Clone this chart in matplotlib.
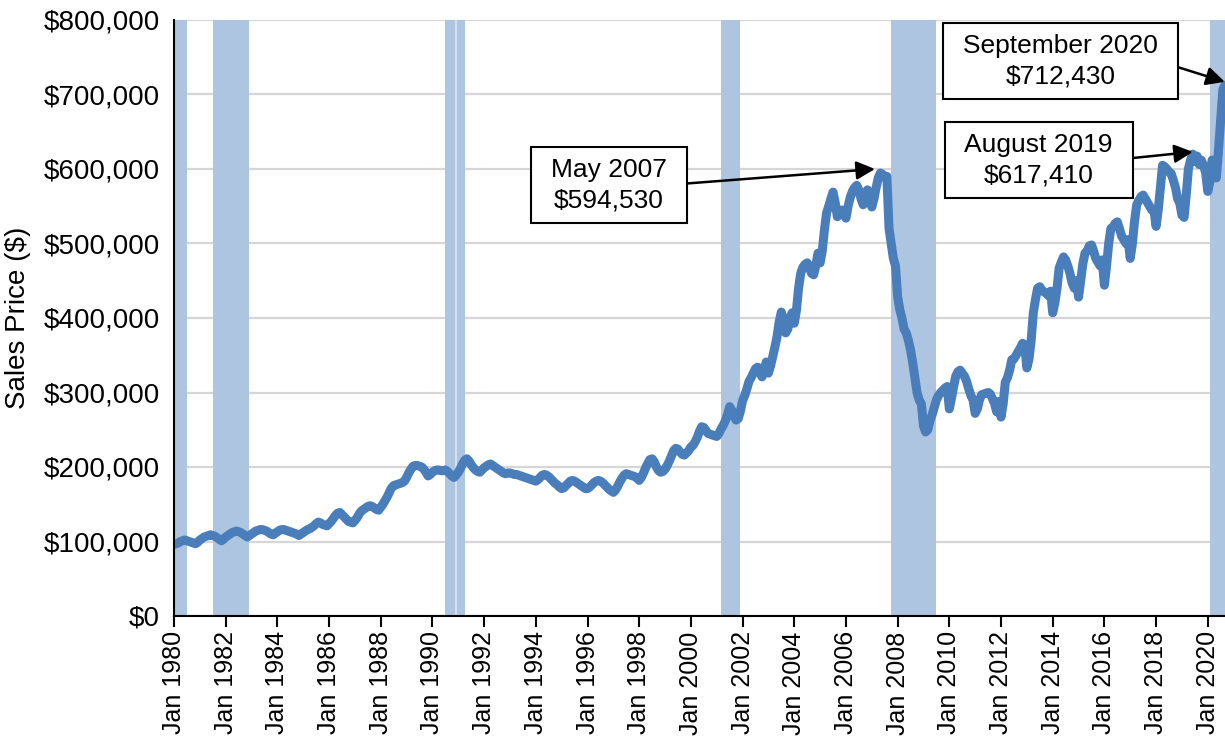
import matplotlib.pyplot as plt
from matplotlib.ticker import FuncFormatter

# California median home sales price, monthly, in $ thousands
price_k = {
    1980: [96, 97, 98, 100, 101, 102, 101, 100, 99, 98, 97, 99],
    1981: [102, 104, 106, 107, 108, 109, 108, 107, 105, 103, 101, 103],
    1982: [106, 108, 110, 112, 113, 114, 113, 112, 110, 108, 106, 108],
    1983: [110, 112, 114, 115, 116, 116, 115, 114, 112, 110, 109, 111],
    1984: [113, 115, 116, 116, 115, 114, 113, 112, 111, 110, 108, 110],
    1985: [112, 114, 116, 117, 119, 121, 124, 126, 125, 123, 122, 121],
    1986: [124, 127, 131, 135, 138, 139, 136, 133, 130, 127, 126, 125],
    1987: [128, 132, 137, 141, 143, 145, 147, 148, 147, 145, 143, 142],
    1988: [146, 150, 155, 160, 166, 172, 175, 176, 177, 178, 179, 181],
    1989: [186, 192, 197, 201, 202, 202, 201, 200, 197, 193, 188, 190],
    1990: [193, 195, 196, 196, 195, 195, 196, 194, 191, 188, 186, 189],
    1991: [193, 198, 204, 209, 211, 208, 203, 199, 196, 194, 193, 196],
    1992: [199, 201, 203, 204, 202, 200, 198, 196, 194, 192, 191, 192],
    1993: [192, 191, 190, 190, 189, 188, 187, 186, 185, 184, 183, 182],
    1994: [181, 183, 186, 189, 190, 189, 187, 184, 181, 178, 176, 173],
    1995: [171, 172, 175, 178, 181, 182, 181, 179, 177, 175, 173, 171],
    1996: [171, 173, 176, 179, 181, 182, 181, 179, 176, 173, 170, 168],
    1997: [166, 169, 174, 180, 185, 189, 191, 190, 189, 188, 187, 185],
    1998: [182, 186, 192, 199, 205, 210, 211, 207, 200, 195, 193, 194],
    1999: [197, 202, 208, 215, 222, 225, 224, 220, 217, 216, 219, 222],
    2000: [227, 229, 234, 240, 248, 254, 253, 249, 245, 244, 243, 242],
    2001: [241, 245, 251, 256, 262, 270, 281, 276, 268, 263, 265, 275],
    2002: [289, 296, 305, 315, 320, 326, 332, 334, 328, 321, 330, 341],
    2003: [326, 336, 348, 361, 375, 395, 408, 395, 380, 385, 400, 407],
    2004: [393, 410, 440, 460, 468, 472, 474, 468, 460, 458, 470, 487],
    2005: [474, 490, 518, 541, 550, 560, 569, 555, 536, 540, 545, 540],
    2006: [534, 550, 562, 570, 575, 578, 572, 560, 552, 562, 572, 560],
    2007: [549, 560, 575, 588, 594.53, 593, 589, 590, 520, 500, 480, 470],
    2008: [429, 411, 400, 385, 380, 370, 357, 340, 320, 300, 290, 285],
    2009: [255, 247, 250, 262, 270, 280, 290, 296, 300, 303, 306, 308],
    2010: [278, 292, 308, 322, 328, 330, 326, 322, 315, 305, 296, 290],
    2011: [272, 278, 290, 297, 298, 299, 300, 298, 292, 285, 274, 288],
    2012: [267, 285, 314, 320, 330, 344, 345, 350, 355, 360, 366, 364],
    2013: [333, 345, 370, 407, 425, 440, 442, 437, 435, 433, 430, 436],
    2014: [407, 420, 440, 467, 475, 482, 478, 470, 460, 447, 440, 450],
    2015: [428, 450, 473, 487, 490, 497, 498, 490, 480, 475, 470, 478],
    2016: [444, 470, 500, 520, 522, 527, 529, 520, 510, 505, 500, 505],
    2017: [480, 500, 530, 552, 558, 563, 565, 560, 555, 550, 545, 545],
    2018: [523, 545, 575, 605, 603, 600, 596, 594, 585, 575, 560, 554],
    2019: [538, 535, 565, 600, 612, 620, 610, 617.41, 606, 612, 605, 595],
    2020: [569.86, 583.14, 611.95, 606.41, 588.07, 626.17, 666.32, 706.90, 712.43],
}

# recession shading (start month, first month after end)
recessions = [
    ("1980-01", "1980-07"),
    ("1981-07", "1982-12"),
    ("1990-07", "1990-12"),
    ("1990-12", "1991-04"),
    ("2001-03", "2001-12"),
    ("2007-10", "2009-07"),
    ("2020-02", "2020-09"),
]

tick_years = list(range(1980, 2021, 2))
tick_labels = [f"Jan {y}" for y in tick_years]

notes = [
    ("May 2007\n$594,530", (2007.12, 600000), (1996.83, 578500)),
    ("August 2019\n$617,410", (2019.42, 623000), (2013.46, 612000)),
    ("September 2020\n$712,430", (2020.66, 717000), (2014.31, 745000)),
]


def ym(s):
    y, m = s.split("-")
    return int(y) + (int(m) - 1) / 12


xs, ys = [], []
for year, vals in price_k.items():
    for i, v in enumerate(vals):
        xs.append(year + i / 12)
        ys.append(v * 1000)

plt.rcParams["font.family"] = ["Liberation Sans", "DejaVu Sans"]

fig = plt.figure(figsize=(12.25, 7.38), dpi=100)
ax = fig.add_axes([174 / 1225, 1 - 616 / 738, 1 - 174 / 1225, (616 - 20) / 738])

for a, b in recessions:
    ax.axvspan(ym(a), ym(b), color="#adc5e0", lw=0, zorder=1)
# thin light seam inside the 1990-91 band, as in the source
ax.axvline(ym("1990-12"), color="#dce6f2", lw=1.2, zorder=1)

ax.plot(xs, ys, color="#4a7ebb", lw=6.5, solid_joinstyle="round",
        solid_capstyle="round", zorder=3)

ax.set_xlim(1980, ym("2020-09"))
ax.set_ylim(0, 800000)
ax.set_yticks(range(0, 800001, 100000))
ax.yaxis.set_major_formatter(FuncFormatter(lambda v, p: f"${v:,.0f}"))
ax.grid(axis="y", color="#d6d6d6", lw=1.6, zorder=0)
ax.set_axisbelow(True)

ax.set_xticks(tick_years, tick_labels, rotation=90)
ax.tick_params(axis="x", length=8, width=1.5, color="black", labelsize=18, pad=3)
ax.tick_params(axis="y", length=0, labelsize=20, pad=10)
ax.set_ylabel("Sales Price ($)", fontsize=20)
ax.yaxis.set_label_coords(-0.136, 0.5)

for side in ["top", "right"]:
    ax.spines[side].set_visible(False)
for side in ["left", "bottom"]:
    ax.spines[side].set_linewidth(1.5)
    ax.spines[side].set_zorder(4)

for text, xy, xytext in notes:
    ax.annotate(
        text,
        xy=xy,
        xytext=xytext,
        ha="center",
        va="center",
        fontsize=19,
        linespacing=1.35,
        bbox=dict(boxstyle="square,pad=0.75", fc="white", ec="black", lw=1.5,
                  mutation_aspect=0.55),
        arrowprops=dict(arrowstyle="-|>", color="black", lw=1.8,
                        mutation_scale=28, relpos=(1, 0.5), shrinkA=0, shrinkB=0),
        zorder=5,
        annotation_clip=False,
    )

plt.savefig("out.png", dpi=100)
